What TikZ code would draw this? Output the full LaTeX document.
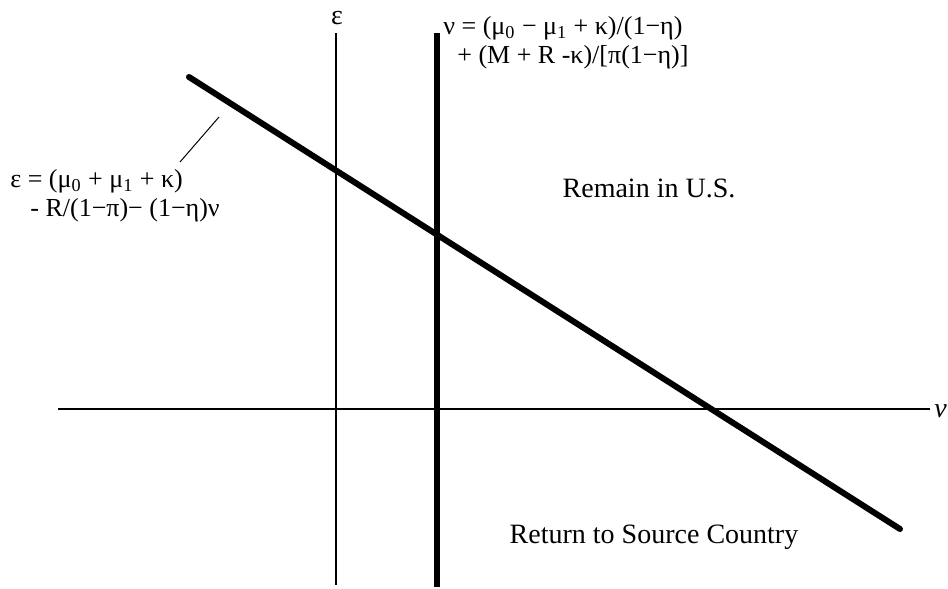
\documentclass[tikz,border=0pt]{standalone}
\usepackage{fontspec}
\setmainfont{Liberation Serif}
\begin{document}
\begin{tikzpicture}[x=0.5pt,y=-0.5pt,
  thinline/.style={line width=1pt},
  thickline/.style={line width=2.6pt},
  curveline/.style={line width=3pt,line cap=round},
  leader/.style={line width=0.5pt},
  eqlabel/.style={font=\fontsize{13}{14.5}\selectfont,inner sep=0pt,align=left},
  region/.style={font=\fontsize{14}{16}\selectfont,inner sep=0pt}]
\useasboundingbox (0,0) rectangle (948,589);
\coordinate (hl) at (58,409);
\coordinate (hr) at (930,409);
\coordinate (et) at (336,33);
\coordinate (eb) at (336,585);
\coordinate (vt) at (437,33);
\coordinate (vb) at (437,587);
\coordinate (d1) at (189,77);
\coordinate (d2) at (900,529);
\coordinate (l1) at (180,162);
\coordinate (l2) at (219,117);
\draw[thinline] (hl) -- (hr);
\draw[thinline] (et) -- (eb);
\draw[thickline] (vt) -- (vb);
\draw[curveline] (d1) -- (d2);
\draw[leader] (l1) -- (l2);
\node[region,anchor=west] (nu) at (934,411) {\textit{ν}};
\node[region] (eps) at (337,18) {ε};
\node[eqlabel,anchor=north west] (left) at (10,169) {ε = (μ\textsubscript{0} + μ\textsubscript{1} + κ)\\\hspace*{10pt}- R/(1−π)− (1−η)ν};
\node[eqlabel,anchor=north west] (top) at (443,16) {ν = (μ\textsubscript{0} − μ\textsubscript{1} + κ)/(1−η)\\\hspace*{7pt}+ (M + R -κ)/[π(1−η)]};
\node[region] (remain) at (649,188) {Remain in U.S.};
\node[region] (ret) at (654,537) {Return to Source Country};
\end{tikzpicture}
\end{document}
